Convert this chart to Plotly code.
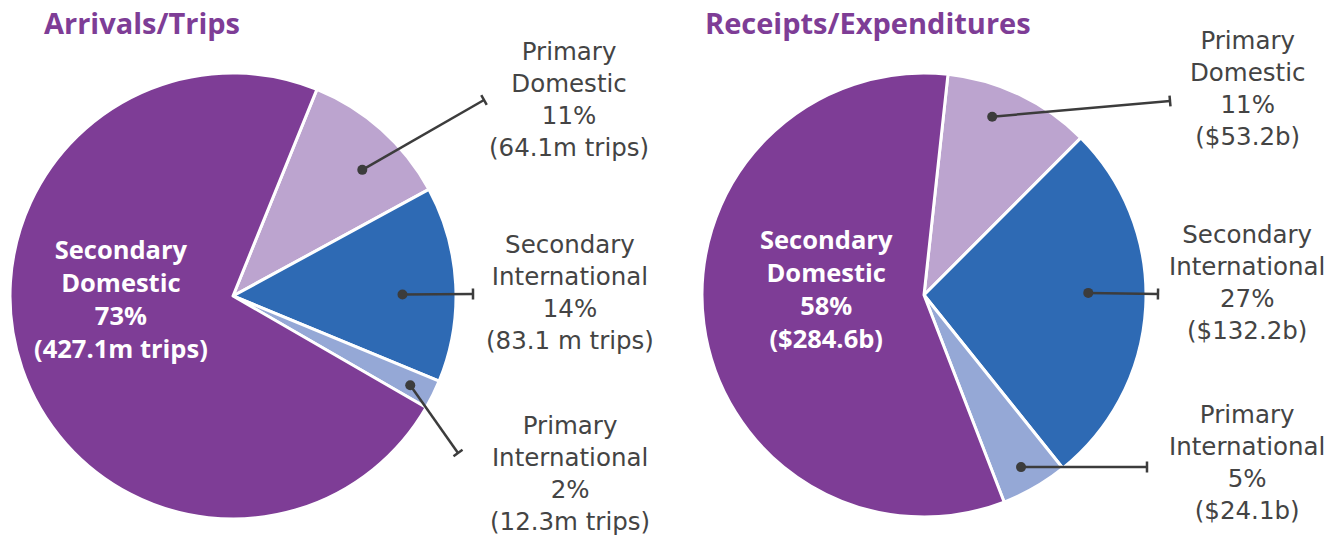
import math
import plotly.graph_objects as go

# ---------------- data ----------------
categories = ["Primary Domestic", "Secondary International", "Primary International", "Secondary Domestic"]
name_lines = [["Primary", "Domestic"], ["Secondary", "International"],
              ["Primary", "International"], ["Secondary", "Domestic"]]

trips_m = [64.1, 83.1, 12.3, 427.1]
trips_pct = [11, 14, 2, 73]
trips_text = ["(64.1m trips)", "(83.1 m trips)", "(12.3m trips)", "(427.1m trips)"]

receipts_b = [53.2, 132.2, 24.1, 284.6]
receipts_pct = [11, 27, 5, 58]
receipts_text = ["($53.2b)", "($132.2b)", "($24.1b)", "($284.6b)"]

titles = ["Arrivals/Trips", "Receipts/Expenditures"]

# ---------------- style ----------------
W, H = 1344, 535
colors = ["#BCA4CF", "#2E6AB4", "#95A8D6", "#7E3D96"]
purple = "#7E3D96"
text_gray = "#444444"
line_col = "#3C3C3C"
LABEL_FONT = "DejaVu Sans"
BOLD_FONT = "Open Sans"

pies = [
    dict(values=trips_m, pct=trips_pct, vt=trips_text, title=titles[0],
         cx=233, cy=296, r=223, rot=22.1, title_x=42, title_y=23,
         dots=[(0.60, 0.81), (0.55, 0.76), (0.57, 0.89)],
         ends=[(484, 100), (473, 294), (458, 453)],
         labels=[(569, 99), (570, 292), (570, 473)],
         inside=(121, 298)),
    dict(values=receipts_b, pct=receipts_pct, vt=receipts_text, title=titles[1],
         cx=924, cy=295, r=222, rot=6.2, title_x=703, title_y=23,
         dots=[(0.38, 0.86), (0.46, 0.74), (0.53, 0.89)],
         ends=[(1170, 101), (1158, 294), (1147, 467)],
         labels=[(1247, 88.5), (1247, 282), (1247, 462)],
         inside=(826, 288.5)),
]


def px(x):
    return x / W


def py(y):
    return 1 - y / H


fig = go.Figure()
shapes = []
annotations = []

for p in pies:
    cx, cy, r = p["cx"], p["cy"], p["r"]
    fig.add_trace(go.Pie(
        labels=categories, values=p["values"], sort=False, direction="clockwise",
        rotation=p["rot"], textinfo="none", hoverinfo="label+value+percent",
        marker=dict(colors=colors, line=dict(color="white", width=3)),
        domain=dict(x=[px(cx - r), px(cx + r)], y=[py(cy + r), py(cy - r)]),
        showlegend=False,
    ))
    total = sum(p["values"])
    start = p["rot"]
    spans = []
    for v in p["values"]:
        ang = v / total * 360
        spans.append((start, start + ang))
        start += ang

    # title
    annotations.append(dict(text="<b>%s</b>" % p["title"], x=px(p["title_x"]), y=py(p["title_y"]),
                            xref="paper", yref="paper", xanchor="left", yanchor="middle",
                            showarrow=False, font=dict(family=BOLD_FONT, size=29, color=purple)))

    # outside labels with leader lines
    for i in range(3):
        a0, a1 = spans[i]
        f, rf = p["dots"][i]
        a = math.radians(a0 + f * (a1 - a0))
        dx_, dy_ = cx + rf * r * math.sin(a), cy - rf * r * math.cos(a)
        ex, ey = p["ends"][i]
        shapes.append(dict(type="line", xref="paper", yref="paper",
                           x0=px(dx_), y0=py(dy_), x1=px(ex), y1=py(ey),
                           line=dict(color=line_col, width=2.5)))
        L = math.hypot(ex - dx_, ey - dy_)
        nx, ny = -(ey - dy_) / L, (ex - dx_) / L
        hl = 5.5
        shapes.append(dict(type="line", xref="paper", yref="paper",
                           x0=px(ex + nx * hl), y0=py(ey + ny * hl),
                           x1=px(ex - nx * hl), y1=py(ey - ny * hl),
                           line=dict(color=line_col, width=2.5)))
        dr = 5
        shapes.append(dict(type="circle", xref="paper", yref="paper",
                           x0=px(dx_ - dr), x1=px(dx_ + dr), y0=py(dy_ + dr), y1=py(dy_ - dr),
                           fillcolor=line_col, line=dict(color=line_col, width=0)))
        lx, ly = p["labels"][i]
        txt = "<br>".join(name_lines[i] + ["%d%%" % p["pct"][i], p["vt"][i]])
        annotations.append(dict(text=txt, x=px(lx), y=py(ly), xref="paper", yref="paper",
                                xanchor="center", yanchor="middle", align="center",
                                showarrow=False, font=dict(family=LABEL_FONT, size=24.5, color=text_gray)))

    # inside label
    ix, iy = p["inside"]
    txt = "<br>".join("<b>%s</b>" % s for s in name_lines[3] + ["%d%%" % p["pct"][3], p["vt"][3]])
    annotations.append(dict(text=txt, x=px(ix), y=py(iy), xref="paper", yref="paper",
                            xanchor="center", yanchor="middle", align="center",
                            showarrow=False, font=dict(family=BOLD_FONT, size=25.5, color="white")))

fig.update_layout(
    width=W, height=H, margin=dict(l=0, r=0, t=0, b=0),
    paper_bgcolor="white", plot_bgcolor="white",
    shapes=shapes, annotations=annotations,
)

fig.write_html("out.html", config={"displayModeBar": False},
               post_script="document.body.style.margin='0';document.body.style.overflow='hidden';")
